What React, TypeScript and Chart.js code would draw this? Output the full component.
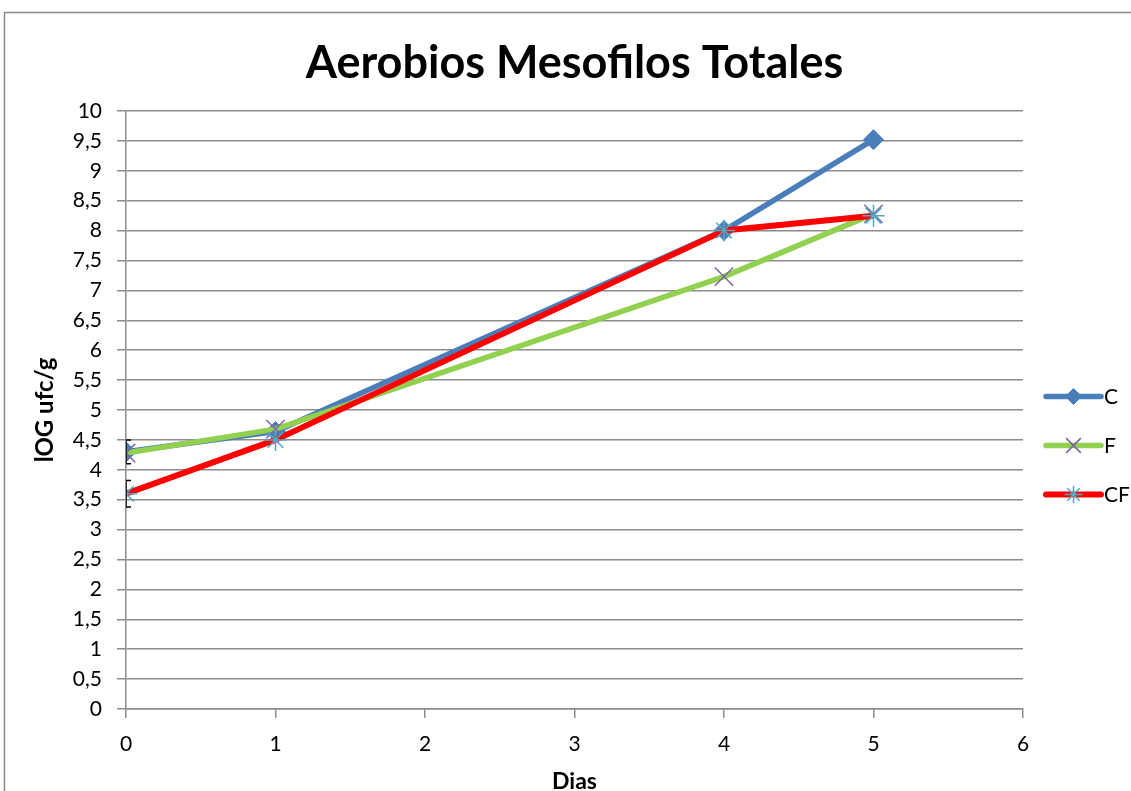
import React, { useEffect, useRef } from 'react';
import { Chart, registerables } from 'chart.js';
import { drawPoint } from 'chart.js/helpers';

Chart.register(...registerables);

const days = [0, 1, 4, 5];
const seriesC = [4.3, 4.64, 8.0, 9.52];
const seriesF = [4.28, 4.68, 7.23, 8.28];
const seriesCF = [3.6, 4.5, 8.0, 8.25];
const errC = [0.2, 0, 0, 0];
const errCF = [0.22, 0, 0, 0];
const seriesLabels = ['C', 'F', 'CF'];

const titleText = 'Aerobios Mesofilos Totales';
const xTitle = 'Dias';
const yTitle = 'lOG ufc/g';
const FONT = 'Lato, "Noto Sans", sans-serif';

const toPts = (vals: number[]) => days.map((d, i) => ({ x: d, y: vals[i] }));

const frameBorder = {
  id: 'frameBorder',
  beforeDraw(chart: any) {
    const ctx = chart.ctx;
    ctx.save();
    ctx.strokeStyle = '#8a8a8a';
    ctx.lineWidth = 1.5;
    ctx.beginPath();
    ctx.moveTo(4.5, chart.height);
    ctx.lineTo(4.5, 12.5);
    ctx.lineTo(chart.width, 12.5);
    ctx.stroke();
    ctx.restore();
  },
};

const chartTitle = {
  id: 'chartTitle',
  afterDraw(chart: any) {
    const ctx = chart.ctx;
    ctx.save();
    ctx.fillStyle = '#000000';
    ctx.font = `bold 45px ${FONT}`;
    ctx.textAlign = 'center';
    ctx.textBaseline = 'alphabetic';
    ctx.fillText(titleText, chart.width / 2 + 9, 78);
    ctx.restore();
  },
};

const errorBars = {
  id: 'errorBars',
  afterDatasetsDraw(chart: any) {
    const ctx = chart.ctx;
    const yScale = chart.scales.y;
    const area = chart.chartArea;
    ctx.save();
    ctx.beginPath();
    ctx.rect(area.left, area.top, area.right - area.left, area.bottom - area.top);
    ctx.clip();
    ctx.strokeStyle = '#000000';
    ctx.lineWidth = 1.5;
    chart.data.datasets.forEach((ds: any, di: number) => {
      const errs: number[] | undefined = ds.errors;
      if (!errs) return;
      const meta = chart.getDatasetMeta(di);
      meta.data.forEach((pt: any, i: number) => {
        const e = errs[i];
        if (!e) return;
        const v = ds.data[i].y;
        const x = pt.x;
        const y1 = yScale.getPixelForValue(v + e);
        const y2 = yScale.getPixelForValue(v - e);
        ctx.beginPath();
        ctx.moveTo(x, y1);
        ctx.lineTo(x, y2);
        ctx.moveTo(x - 5, y1);
        ctx.lineTo(x + 5, y1);
        ctx.moveTo(x - 5, y2);
        ctx.lineTo(x + 5, y2);
        ctx.stroke();
      });
    });
    ctx.restore();
  },
};

const sideLegend = {
  id: 'sideLegend',
  afterDraw(chart: any) {
    const ctx = chart.ctx;
    const area = chart.chartArea;
    const startY = chart.height / 2 + 1;
    ctx.save();
    chart.data.datasets.forEach((ds: any, i: number) => {
      const y = startY + i * 49;
      const x0 = area.right + 23;
      const x1 = area.right + 78;
      ctx.strokeStyle = ds.borderColor;
      ctx.lineWidth = ds.borderWidth;
      ctx.lineCap = 'round';
      ctx.beginPath();
      ctx.moveTo(x0, y);
      ctx.lineTo(x1, y);
      ctx.stroke();
      ctx.lineCap = 'butt';
      ctx.lineWidth = ds.pointBorderWidth;
      ctx.strokeStyle = ds.pointBorderColor;
      ctx.fillStyle = ds.pointBackgroundColor;
      drawPoint(ctx, {
        pointStyle: ds.pointStyle,
        radius: ds.pointRadius * 0.8,
        borderWidth: ds.pointBorderWidth,
        rotation: 0,
      } as any, (x0 + x1) / 2, y);
      ctx.fillStyle = '#000000';
      ctx.font = `21px ${FONT}`;
      ctx.textAlign = 'left';
      ctx.textBaseline = 'middle';
      ctx.fillText(ds.label, x1 + 3, y + 1);
    });
    ctx.restore();
  },
};

export default function App() {
  const ref = useRef<HTMLCanvasElement | null>(null);

  useEffect(() => {
    if (!ref.current) return;
    const chart = new Chart(ref.current, {
      type: 'line',
      data: {
        datasets: [
          {
            label: seriesLabels[0],
            data: toPts(seriesC),
            borderColor: '#4a7ebb',
            backgroundColor: '#4a7ebb',
            borderWidth: 5.5,
            pointStyle: 'rectRot',
            pointRadius: 10,
            pointBackgroundColor: '#4a7ebb',
            pointBorderColor: '#4a7ebb',
            pointBorderWidth: 1,
            order: 3,
            errors: errC,
          } as any,
          {
            label: seriesLabels[1],
            data: toPts(seriesF),
            borderColor: '#92d050',
            backgroundColor: '#92d050',
            borderWidth: 5.5,
            pointStyle: 'crossRot',
            pointRadius: 13,
            pointBackgroundColor: '#7f63a1',
            pointBorderColor: '#7f63a1',
            pointBorderWidth: 1.5,
            order: 2,
          } as any,
          {
            label: seriesLabels[2],
            data: toPts(seriesCF),
            borderColor: '#ff0000',
            backgroundColor: '#ff0000',
            borderWidth: 6,
            pointStyle: 'star',
            pointRadius: 11,
            pointBackgroundColor: '#4bacc6',
            pointBorderColor: '#4bacc6',
            pointBorderWidth: 1.5,
            order: 1,
            errors: errCF,
          } as any,
        ],
      },
      options: {
        animation: false,
        responsive: false,
        maintainAspectRatio: false,
        layout: { padding: { left: 0, right: 108, top: 111, bottom: 0 } },
        plugins: {
          legend: { display: false },
          tooltip: { enabled: false },
          title: { display: false },
        },
        elements: {
          line: { tension: 0, borderJoinStyle: 'round' },
        },
        scales: {
          x: {
            type: 'linear',
            min: 0,
            max: 6,
            afterFit: (s: any) => { s.height = 82; },
            ticks: {
              stepSize: 1,
              color: '#000000',
              font: { family: FONT, size: 21 },
              padding: 14,
            },
            grid: {
              display: true,
              drawOnChartArea: false,
              drawTicks: true,
              tickLength: 9,
              color: '#8c8c8c',
              lineWidth: 1.5,
            },
            border: { display: true, color: '#8c8c8c', width: 1.5 },
            title: {
              display: true,
              text: xTitle,
              color: '#000000',
              font: { family: FONT, size: 23, weight: 'bold' },
              padding: { top: 0, bottom: -4 },
            },
          },
          y: {
            type: 'linear',
            min: 0,
            max: 10,
            afterFit: (s: any) => { s.width = 126; },
            ticks: {
              stepSize: 0.5,
              color: '#000000',
              font: { family: FONT, size: 21 },
              padding: 15,
              callback: (v: any) => String(v).replace('.', ','),
            },
            grid: {
              display: true,
              drawTicks: true,
              tickLength: 9,
              color: '#8c8c8c',
              lineWidth: 1.5,
            },
            border: { display: true, color: '#8c8c8c', width: 1.5 },
            title: {
              display: true,
              text: yTitle,
              color: '#000000',
              font: { family: FONT, size: 24, weight: 'bold' },
              padding: { top: 31, bottom: 0 },
            },
          },
        },
      } as any,
      plugins: [frameBorder, errorBars, sideLegend, chartTitle],
    });
    return () => chart.destroy();
  }, []);

  return (
    <div style={{ position: 'absolute', left: 0, top: 0, width: 1131, height: 791, background: '#ffffff' }}>
      <canvas ref={ref} width={1131} height={791} style={{ display: 'block', width: 1131, height: 791 }} />
    </div>
  );
}
